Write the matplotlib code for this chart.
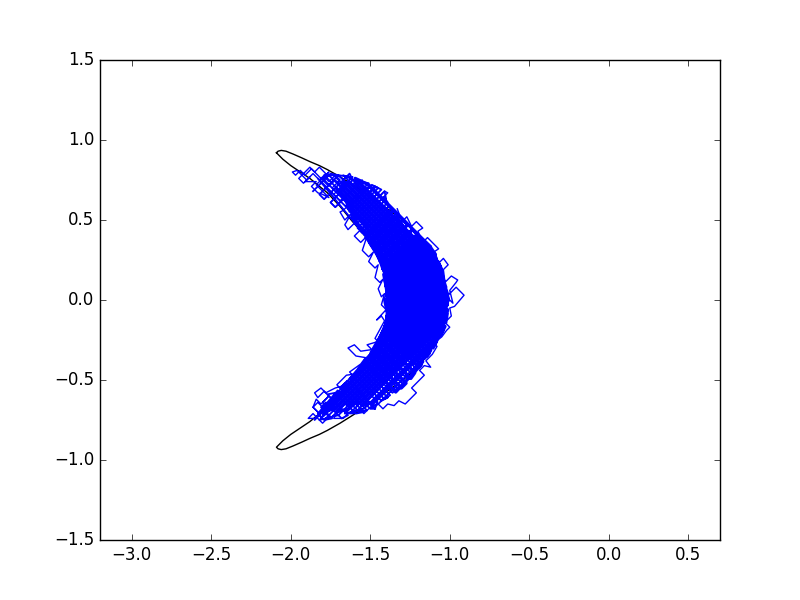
import matplotlib
matplotlib.use("Agg")
import matplotlib.pyplot as plt

plt.style.use("classic")

x_ticks = [-3.0, -2.5, -2.0, -1.5, -1.0, -0.5, 0.0, 0.5]
y_ticks = [-1.5, -1.0, -0.5, 0.0, 0.5, 1.0, 1.5]

contour = [
    (-2.09, .92), (-2.08, .93), (-2.06, .935), (-2.03, .93), (-1.985, .912), (-1.93, .888),
    (-1.88, .865), (-1.82, .84), (-1.77, .815), (-1.69, .77), (-1.61, .72), (-1.525, .665),
    (-1.44, .605), (-1.35, .54), (-1.27, .48), (-1.21, .425), (-1.16, .37), (-1.115, .305),
    (-1.08, .24), (-1.055, .18), (-1.04, .12), (-1.03, .06), (-1.025, 0.0), (-1.03, -.06),
    (-1.04, -.12), (-1.055, -.18), (-1.08, -.24), (-1.115, -.305), (-1.16, -.37), (-1.21, -.425),
    (-1.27, -.48), (-1.35, -.54), (-1.44, -.605), (-1.525, -.665), (-1.61, -.72), (-1.69, -.77),
    (-1.77, -.815), (-1.82, -.84), (-1.88, -.865), (-1.93, -.888), (-1.985, -.912), (-2.03, -.93),
    (-2.06, -.935), (-2.08, -.93), (-2.09, -.92), (-2.05, -.88), (-2.0, -.84), (-1.94, -.80),
    (-1.88, -.76), (-1.825, -.715), (-1.77, -.67), (-1.69, -.585), (-1.62, -.50), (-1.55, -.42),
    (-1.483, -.344), (-1.445, -.27), (-1.42, -.2), (-1.405, -.15), (-1.395, -.1), (-1.388, -.05),
    (-1.385, 0.0), (-1.388, .05), (-1.395, .1), (-1.405, .15), (-1.42, .2), (-1.445, .27),
    (-1.483, .344), (-1.55, .42), (-1.62, .50), (-1.69, .585), (-1.77, .67), (-1.825, .715),
    (-1.88, .76), (-1.94, .80), (-2.0, .84), (-2.05, .88), (-2.09, .92),
]

# long diagonal runs of the chain through the crescent body
body_rising = [
    (-1.86, .68), (-1.75, .79), (-1.70, .78), (-1.82, .66), (-1.79, .63), (-1.63, .79),
    (-1.61, .75), (-1.75, .61), (-1.72, .58), (-1.56, .74), (-1.51, .73), (-1.65, .59),
    (-1.63, .55), (-1.47, .71), (-1.43, .69), (-1.61, .51), (-1.59, .47), (-1.415, .645),
    (-1.39, .61), (-1.565, .435), (-1.535, .405), (-1.365, .575), (-1.34, .54), (-1.51, .37),
    (-1.485, .335), (-1.32, .50), (-1.295, .465), (-1.46, .30), (-1.445, .255), (-1.27, .43),
    (-1.24, .40), (-1.425, .215), (-1.40, .18), (-1.22, .36), (-1.195, .325), (-1.39, .13),
    (-1.38, .08), (-1.17, .29), (-1.15, .25), (-1.39, .01), (-1.39, -.05), (-1.13, .21),
    (-1.12, .16), (-1.39, -.11), (-1.41, -.19), (-1.095, .125), (-1.075, .085), (-1.51, -.35),
    (-1.85, -.75), (-1.06, .04), (-1.05, -.01), (-1.78, -.74), (-1.70, -.72), (-1.05, -.07),
    (-1.06, -.14), (-1.62, -.70), (-1.54, -.68), (-1.10, -.24), (-1.18, -.38), (-1.45, -.65),
    (-1.495, -.665), (-1.13, -.30), (-1.08, -.19), (-1.58, -.69), (-1.66, -.71), (-1.05, -.10),
    (-1.05, -.04), (-1.74, -.73), (-1.82, -.75), (-1.055, .015), (-1.07, .06), (-1.55, -.42),
    (-1.46, -.27), (-1.085, .105), (-1.105, .145), (-1.40, -.15), (-1.39, -.08), (-1.125, .185),
    (-1.14, .23), (-1.39, -.02), (-1.385, .045), (-1.16, .27), (-1.18, .31), (-1.385, .105),
    (-1.395, .155), (-1.21, .34), (-1.23, .38), (-1.41, .20), (-1.435, .235), (-1.255, .415),
    (-1.28, .45), (-1.45, .28), (-1.47, .32), (-1.31, .48), (-1.33, .52), (-1.50, .35),
    (-1.52, .39), (-1.35, .56), (-1.38, .59), (-1.55, .42), (-1.58, .45), (-1.40, .63),
    (-1.41, .68), (-1.60, .49), (-1.62, .53), (-1.45, .70), (-1.49, .72), (-1.64, .57),
]

body_falling = [
    (-1.51, .71), (-1.35, .55), (-1.21, .35), (-1.63, .77), (-1.70, .78), (-1.12, .20),
    (-1.08, .10), (-1.76, .78), (-1.80, .76), (-1.05, .01), (-1.045, -.055), (-1.60, .50),
    (-1.46, .30), (-1.055, -.105), (-1.07, -.15), (-1.42, .20), (-1.405, .125), (-1.08, -.20),
    (-1.10, -.24), (-1.395, .055), (-1.41, .01), (-1.12, -.28), (-1.14, -.32), (-1.39, -.07),
    (-1.39, -.13), (-1.165, -.355), (-1.185, -.395), (-1.405, -.175), (-1.425, -.215), (-1.21, -.43),
    (-1.24, -.46), (-1.44, -.26), (-1.465, -.295), (-1.265, -.495), (-1.295, -.525), (-1.49, -.33),
    (-1.52, -.36), (-1.33, -.55), (-1.36, -.58), (-1.545, -.395), (-1.575, -.425), (-1.39, -.61),
    (-1.43, -.63), (-1.595, -.465), (-1.63, -.49), (-1.47, -.68), (-1.50, -.68), (-1.66, -.52),
    (-1.69, -.55), (-1.54, -.70), (-1.59, -.71), (-1.72, -.58), (-1.77, -.59), (-1.64, -.72),
    (-1.68, -.74), (-1.78, -.64), (-1.81, -.67), (-1.74, -.74), (-1.79, -.75), (-1.83, -.71),
    (-1.705, -.565), (-1.57, -.70), (-1.52, -.69), (-1.675, -.535), (-1.645, -.505), (-1.47, -.68),
    (-1.455, -.635), (-1.61, -.48), (-1.585, -.445), (-1.41, -.62), (-1.375, -.595), (-1.56, -.41),
    (-1.53, -.38), (-1.345, -.565), (-1.31, -.54), (-1.505, -.345), (-1.48, -.31), (-1.28, -.51),
    (-1.25, -.48), (-1.45, -.28), (-1.435, -.235), (-1.225, -.445), (-1.20, -.41), (-1.415, -.195),
    (-1.395, -.155), (-1.175, -.375), (-1.15, -.34), (-1.39, -.10), (-1.39, -.04), (-1.13, -.30),
    (-1.11, -.26), (-1.40, .03), (-1.40, .09), (-1.09, -.22), (-1.075, -.175), (-1.41, .16),
    (-1.44, .25), (-1.06, -.13), (-1.05, -.08), (-1.53, .40), (-1.83, .76), (-1.05, -.02),
    (-1.065, .055), (-1.79, .78), (-1.73, .78), (-1.10, .15), (-1.17, .28), (-1.67, .78),
    (-1.56, .73), (-1.29, .46),
]

# second set of runs, these fill the solid middle and reach the outer edge
fill_rising = [
    (-1.525, .39), (-1.355, .56), (-1.325, .53), (-1.50, .355), (-1.475, .32), (-1.295, .50),
    (-1.265, .47), (-1.455, .28), (-1.435, .24), (-1.235, .44), (-1.205, .41), (-1.42, .195),
    (-1.40, .155), (-1.175, .38), (-1.145, .35), (-1.395, .10), (-1.385, .05), (-1.115, .32),
    (-1.09, .285), (-1.39, -.015), (-1.39, -.075), (-1.075, .24), (-1.055, .20), (-1.40, -.145),
    (-1.445, -.25), (-1.045, .15), (-1.035, .10), (-1.535, -.40), (-1.795, -.72), (-1.02, .055),
    (-1.01, .005), (-1.715, -.70), (-1.635, -.68), (-1.02, -.065), (-1.03, -.135), (-1.555, -.66),
    (-1.485, -.64), (-1.065, -.22), (-1.025, -.10), (-1.565, -.64), (-1.645, -.66), (-1.015, -.03),
    (-1.015, .03), (-1.725, -.68), (-1.805, -.70), (-1.025, .08), (-1.04, .125), (-1.495, -.33),
    (-1.415, -.19), (-1.05, .175), (-1.065, .22), (-1.395, -.11), (-1.39, -.045), (-1.085, .26),
    (-1.105, .30), (-1.39, .015), (-1.385, .08), (-1.13, .335), (-1.16, .365), (-1.395, .13),
    (-1.40, .185), (-1.19, .395),
]

fill_falling = [
    (-1.12, .33), (-1.51, .72), (-1.595, .76), (-1.075, .24), (-1.045, .15), (-1.635, .74),
    (-1.675, .72), (-1.025, .07), (-1.01, -.005), (-1.715, .70), (-1.525, .45), (-1.015, -.06),
    (-1.02, -.115), (-1.52, .385), (-1.42, .225), (-1.03, -.165), (-1.05, -.205), (-1.415, .16),
    (-1.40, .085), (-1.075, -.24), (-1.095, -.28), (-1.39, .015), (-1.39, -.045), (-1.12, -.315),
    (-1.145, -.35), (-1.395, -.10), (-1.40, -.155), (-1.17, -.385), (-1.195, -.42), (-1.42, -.195),
    (-1.435, -.24), (-1.22, -.455), (-1.245, -.49), (-1.455, -.28), (-1.48, -.315), (-1.275, -.52),
    (-1.305, -.55), (-1.505, -.35), (-1.535, -.38), (-1.34, -.575), (-1.18, -.405), (-1.41, -.175),
    (-1.395, -.13), (-1.16, -.365), (-1.13, -.335), (-1.395, -.07), (-1.41, .005), (-1.105, -.30),
    (-1.085, -.26), (-1.395, .05), (-1.405, .12), (-1.06, -.225), (-1.04, -.185), (-1.42, .195),
    (-1.455, .29), (-1.025, -.14), (-1.02, -.085), (-1.575, .47), (-1.645, .60), (-1.015, -.03),
    (-1.02, .035), (-1.685, .70), (-1.665, .74), (-1.035, .11), (-1.055, .19), (-1.595, .73),
]

# sparse upper tip of the chain and the inner edge below it
tail_upper = [
    (-1.44, .62), (-1.39, .67), (-1.41, .68), (-1.46, .63), (-1.50, .67), (-1.47, .70),
    (-1.54, .70), (-1.57, .73), (-1.55, .75), (-1.60, .70), (-1.64, .74), (-1.61, .77),
    (-1.66, .72), (-1.70, .68), (-1.66, .64), (-1.72, .58), (-1.75, .61), (-1.70, .66),
    (-1.74, .70), (-1.69, .75), (-1.72, .78), (-1.76, .74), (-1.79, .77), (-1.76, .80),
    (-1.80, .76), (-1.84, .72), (-1.80, .68), (-1.76, .64), (-1.80, .66), (-1.83, .67),
    (-1.87, .71), (-1.84, .74), (-1.91, .74), (-1.88, .77), (-1.92, .73), (-1.95, .76),
    (-1.90, .81), (-1.88, .83), (-1.85, .80), (-1.82, .83), (-1.78, .79), (-1.82, .75),
    (-1.86, .79), (-1.90, .75), (-1.96, .81), (-1.99, .80), (-1.97, .78), (-1.94, .81),
    (-1.91, .78), (-1.87, .82), (-1.84, .79), (-1.80, .75), (-1.76, .71), (-1.72, .75),
    (-1.68, .71), (-1.73, .66), (-1.69, .62), (-1.65, .66), (-1.61, .62), (-1.67, .56),
    (-1.69, .55), (-1.66, .50), (-1.62, .54), (-1.66, .47), (-1.64, .44), (-1.60, .48),
    (-1.56, .44), (-1.60, .40), (-1.56, .36), (-1.52, .40), (-1.55, .31), (-1.51, .27),
    (-1.48, .30), (-1.51, .24), (-1.47, .20), (-1.45, .22), (-1.47, .14), (-1.44, .11),
    (-1.42, .13), (-1.45, .07), (-1.43, .02), (-1.41, .04), (-1.43, -.03), (-1.40, -.06),
]

# lower tip of the chain, then up the outer edge
tail_lower = [
    (-1.46, -.125), (-1.43, -.10), (-1.41, -.13), (-1.47, -.24), (-1.44, -.27), (-1.42, -.25),
    (-1.52, -.28), (-1.49, -.31), (-1.56, -.32), (-1.60, -.28), (-1.64, -.30), (-1.62, -.32),
    (-1.59, -.35), (-1.53, -.36), (-1.56, -.40), (-1.63, -.45), (-1.60, -.48), (-1.58, -.46),
    (-1.65, -.47), (-1.71, -.53), (-1.68, -.56), (-1.65, -.53), (-1.72, -.55), (-1.78, -.58),
    (-1.81, -.55), (-1.85, -.58), (-1.83, -.61), (-1.79, -.57), (-1.76, -.60), (-1.80, -.64),
    (-1.76, -.68), (-1.72, -.64), (-1.76, -.60), (-1.81, -.65), (-1.84, -.62), (-1.86, -.67),
    (-1.82, -.71), (-1.79, -.68), (-1.83, -.64), (-1.86, -.67), (-1.82, -.71), (-1.85, -.74),
    (-1.89, -.74), (-1.86, -.71), (-1.80, -.77), (-1.76, -.73), (-1.79, -.70), (-1.74, -.65),
    (-1.70, -.69), (-1.73, -.74), (-1.67, -.74), (-1.64, -.71), (-1.60, -.71), (-1.57, -.68),
    (-1.54, -.71), (-1.50, -.67), (-1.48, -.675), (-1.45, -.65), (-1.42, -.68), (-1.39, -.65),
    (-1.35, -.66), (-1.32, -.63), (-1.28, -.65), (-1.24, -.61), (-1.21, -.58), (-1.24, -.55),
    (-1.19, -.50), (-1.16, -.47), (-1.19, -.44), (-1.16, -.41), (-1.12, -.42), (-1.15, -.38),
    (-1.11, -.34), (-1.08, -.29), (-1.10, -.27), (-1.05, -.23), (-1.02, -.19), (-1.00, -.17),
    (-1.03, -.14), (-0.99, -.10), (-1.00, -.05), (-0.97, -.04), (-0.91, .03), (-0.96, .08),
    (-1.02, .02), (-0.98, -.02), (-1.00, .06), (-0.96, .11), (-0.95, .125), (-0.99, .15),
    (-1.03, .11), (-1.04, .19), (-1.01, .22), (-1.04, .26), (-1.07, .23), (-1.10, .30),
    (-1.07, .32), (-1.10, .35), (-1.14, .39), (-1.17, .36), (-1.20, .43), (-1.17, .45),
    (-1.21, .49), (-1.24, .46), (-1.27, .52), (-1.30, .49), (-1.33, .57),
]


def split(points):
    return [p[0] for p in points], [p[1] for p in points]


body_x, body_y = split(body_rising + body_falling)
fill_x, fill_y = split(fill_rising + fill_falling)
tail_x, tail_y = split(tail_upper + tail_lower)
contour_x, contour_y = split(contour)

fig, ax = plt.subplots(figsize=(8, 6), dpi=100)
ax.plot(contour_x, contour_y, color="k")
# the reference core is solid, so its runs are drawn heavier than the tails
ax.plot(fill_x, fill_y, color="b", linewidth=2.4)
ax.plot(body_x, body_y, color="b", linewidth=1.3)
ax.plot(tail_x, tail_y, color="b", linewidth=1)
ax.set_xlim(-3.2, 0.7)
ax.set_ylim(-1.5, 1.5)
ax.set_xticks(x_ticks)
ax.set_yticks(y_ticks)
fig.savefig("out.png", dpi=100, facecolor="white")
